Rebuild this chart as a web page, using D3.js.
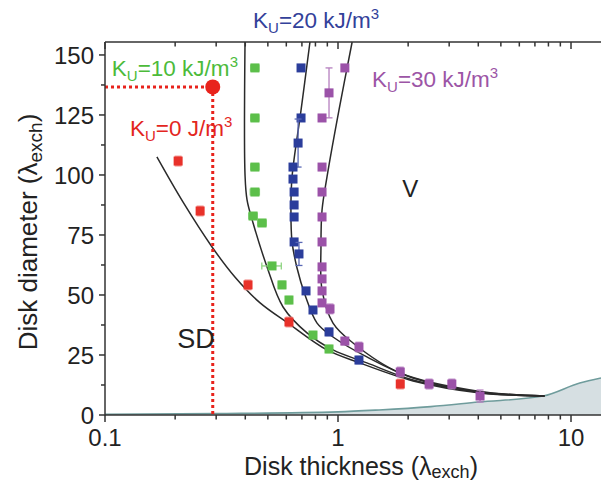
<!DOCTYPE html>
<html><head><meta charset="utf-8">
<script src="https://cdn.jsdelivr.net/npm/d3@7"></script>
<style>
html,body{margin:0;padding:0;background:#fff;}
svg{display:block;font-family:"Liberation Sans",Arial,Helvetica,sans-serif;}
</style></head>
<body><svg id="c" width="601" height="484"></svg>
<script>
// ---------- data ----------
const xMajorTicks = [0.1, 1, 10];
const xTickLabels = ["0.1", "1", "10"];
const xMinorTicks = [0.2,0.3,0.4,0.5,0.6,0.7,0.8,0.9,2,3,4,5,6,7,8,9];
const yTicks = [0, 25, 50, 75, 100, 125, 150];
const yMinorTicks = [12.5, 37.5, 62.5, 87.5, 112.5, 137.5];

// measured points (thickness, diameter) with error bars
const redX = [0.206, 0.256, 0.411, 0.616, 1.85];
const redY = [105.8, 85.0, 54.2, 38.75, 12.9];
const redErrY = [2, 2, 2, 2, 2];
const redErrX = [0, 0, 0, 0, 0];

const greenX = [0.44, 0.44, 0.44, 0.44, 0.432, 0.472, 0.521, 0.575, 0.616, 0.781, 0.915];
const greenY = [144.6, 123.75, 103.3, 92.9, 82.9, 80.0, 62.1, 54.2, 47.9, 33.3, 27.5];
const greenErrY = [1, 1, 1, 1, 1, 1, 1, 1.5, 1.5, 1.5, 1.5];
const greenErrX = [0.018, 0.018, 0.018, 0.02, 0.018, 0.02, 0.05, 0.02, 0.02, 0.02, 0.02];

const blueX = [0.694, 0.694, 0.674, 0.641, 0.641, 0.648, 0.648, 0.648, 0.648, 0.68, 0.729, 0.781, 0.915, 1.23];
const blueY = [144.6, 123.75, 113.3, 103.3, 98.3, 92.9, 87.5, 82.5, 72.1, 67.1, 51.7, 43.75, 34.6, 22.9];
const blueErrY = [0, 0, 10, 0, 0, 0, 0, 0, 0, 4.8, 0, 0, 1.5, 1.5];
const blueErrX = [0, 0.02, 0, 0, 0, 0, 0, 0, 0, 0, 0, 0, 0, 0];

const purpleX = [1.07, 0.915, 0.854, 0.854, 0.854, 0.854, 0.854, 0.854, 0.854, 0.854, 0.854, 0.924, 1.07, 1.23, 1.85, 2.46, 3.08, 4.07];
const purpleY = [144.6, 134.2, 123.75, 103.3, 92.9, 82.5, 72.1, 61.7, 56.7, 51.7, 46.7, 44.2, 30.8, 28.3, 17.9, 12.9, 12.9, 7.9];
const purpleErrY = [0, 10.4, 0, 0, 0, 0, 0, 0, 0, 0, 0, 2, 1.5, 2, 2, 2, 2, 2.5];
const purpleErrX = [0, 0, 0, 0, 0, 0, 0, 0, 0, 0, 0, 0, 0, 0, 0, 0, 0, 0];

// model curves
const redCurveX = [0.167, 0.216, 0.288, 0.361, 0.463, 0.61, 0.897, 1.24, 2.10, 4.07, 7.7];
const redCurveY = [107.5, 88.75, 70.0, 57.5, 46.7, 38.3, 27.1, 21.7, 14.2, 9.2, 7.9];
const greenCurveX = [0.399, 0.399, 0.407, 0.432, 0.496, 0.581, 0.736, 0.952, 1.33, 2.10, 4.07, 7.7];
const greenCurveY = [155.4, 100.0, 89.6, 80.0, 61.7, 45.0, 34.2, 27.1, 21.7, 14.6, 9.6, 7.9];
const blueCurveX = [0.758, 0.694, 0.635, 0.628, 0.635, 0.667, 0.722, 0.813, 0.952, 1.33, 2.10, 4.07, 7.7];
const blueCurveY = [155.4, 127.0, 99.2, 85.4, 72.1, 61.25, 50.0, 38.3, 32.5, 24.2, 15.4, 9.4, 7.9];
const purpleCurveX = [1.15, 1.01, 0.897, 0.854, 0.845, 0.854, 0.952, 1.16, 1.85, 4.07, 7.7];
const purpleCurveY = [155.4, 127.1, 99.2, 85.4, 70.0, 52.1, 38.3, 30.0, 17.5, 9.8, 7.9];

// shaded boundary (lower region)
const bandX = [0.1, 0.3, 1, 1.5, 2.5, 4, 7.6, 10.9, 13.45];
const bandY = [0.3, 0.6, 1.3, 2.1, 3.5, 5.4, 7.9, 13.3, 15.4];

// red marker point and guide lines
const markX = 0.29, markY = 136.7;

// ---------- layout ----------
const svg = d3.select("#c");
const L = 105, R = 601, T = 42, B = 415;
const x = d3.scaleLog().domain([0.1, 13.45]).range([L, R]);
const y = d3.scaleLinear().domain([0, 155.4]).range([B, T]);

const colRed = "#e8312a", colGreen = "#5cbf4a", colBlue = "#2b3d9b", colPurple = "#9b52a8";
const axisCol = "#333";

// shaded region
const area = d3.area().x((d,i)=>x(d[0])).y0(y(0)).y1(d=>y(d[1])).curve(d3.curveMonotoneX);
const band = bandX.map((v,i)=>[v, bandY[i]]);
svg.append("path").attr("d", area(band)).attr("fill", "#d6dfe2");
svg.append("path").attr("d", d3.line().x(d=>x(d[0])).y(d=>y(d[1])).curve(d3.curveMonotoneX)(band))
  .attr("fill","none").attr("stroke","#6f9c9c").attr("stroke-width",1.6);

// curves
const line = d3.line().x(d=>x(d[0])).y(d=>y(d[1])).curve(d3.curveCatmullRom.alpha(0.5));
[[redCurveX, redCurveY],[greenCurveX, greenCurveY],[blueCurveX, blueCurveY],[purpleCurveX, purpleCurveY]].forEach(([cx, cy])=>{
  svg.append("path").attr("d", line(cx.map((v,i)=>[v, cy[i]])))
    .attr("fill","none").attr("stroke","#2a2a2a").attr("stroke-width",1.5);
});

// points
function drawSeries(xs, ys, ex, ey, col, ecol){
  const g = svg.append("g");
  xs.forEach((xv,i)=>{
    const cx = x(xv), cy = y(ys[i]);
    if (ey[i] > 0){
      const y1 = y(ys[i]+ey[i]), y2 = y(ys[i]-ey[i]);
      g.append("line").attr("x1",cx).attr("x2",cx).attr("y1",y1).attr("y2",y2).attr("stroke",ecol).attr("stroke-width",1.3);
      g.append("line").attr("x1",cx-3.5).attr("x2",cx+3.5).attr("y1",y1).attr("y2",y1).attr("stroke",ecol).attr("stroke-width",1.3);
      g.append("line").attr("x1",cx-3.5).attr("x2",cx+3.5).attr("y1",y2).attr("y2",y2).attr("stroke",ecol).attr("stroke-width",1.3);
    }
    if (ex[i] > 0){
      const x1 = x(xv-ex[i]), x2 = x(xv+ex[i]);
      g.append("line").attr("x1",x1).attr("x2",x2).attr("y1",cy).attr("y2",cy).attr("stroke",ecol).attr("stroke-width",1.3);
      g.append("line").attr("x1",x1).attr("x2",x1).attr("y1",cy-3.5).attr("y2",cy+3.5).attr("stroke",ecol).attr("stroke-width",1.3);
      g.append("line").attr("x1",x2).attr("x2",x2).attr("y1",cy-3.5).attr("y2",cy+3.5).attr("stroke",ecol).attr("stroke-width",1.3);
    }
    g.append("rect").attr("x",cx-4.5).attr("y",cy-4.5).attr("width",9).attr("height",9).attr("fill",col);
  });
}
drawSeries(redX, redY, redErrX, redErrY, colRed, "#f08a85");
drawSeries(greenX, greenY, greenErrX, greenErrY, colGreen, "#8fd482");
drawSeries(blueX, blueY, blueErrX, blueErrY, colBlue, "#5a68b5");
drawSeries(purpleX, purpleY, purpleErrX, purpleErrY, colPurple, "#b57fbf");

// red guide lines and dot
svg.append("line").attr("x1",x(0.1)).attr("x2",x(markX)).attr("y1",y(markY)).attr("y2",y(markY))
  .attr("stroke","#e8231c").attr("stroke-width",3).attr("stroke-dasharray","3,3");
svg.append("line").attr("x1",x(markX)).attr("x2",x(markX)).attr("y1",y(markY)).attr("y2",y(0))
  .attr("stroke","#e8231c").attr("stroke-width",3).attr("stroke-dasharray","3,3");
svg.append("circle").attr("cx",x(markX)).attr("cy",y(markY)).attr("r",7.5).attr("fill","#e8231c");

// axes
const ax = svg.append("g").attr("stroke",axisCol).attr("stroke-width",1.5).attr("fill","none");
ax.append("line").attr("x1",L).attr("x2",R).attr("y1",B).attr("y2",B);
ax.append("line").attr("x1",L).attr("x2",R).attr("y1",T).attr("y2",T);
ax.append("line").attr("x1",L).attr("x2",L).attr("y1",T).attr("y2",B+0.75);
xMajorTicks.forEach(t=>{
  ax.append("line").attr("x1",x(t)).attr("x2",x(t)).attr("y1",B).attr("y2",B+7);
  ax.append("line").attr("x1",x(t)).attr("x2",x(t)).attr("y1",T).attr("y2",T+7);
});
xMinorTicks.forEach(t=>{
  ax.append("line").attr("x1",x(t)).attr("x2",x(t)).attr("y1",B).attr("y2",B+4.5);
  ax.append("line").attr("x1",x(t)).attr("x2",x(t)).attr("y1",T).attr("y2",T+4.5);
});
yTicks.forEach(t=>{
  ax.append("line").attr("x1",L-6).attr("x2",L).attr("y1",y(t)).attr("y2",y(t));
});
yMinorTicks.forEach(t=>{
  ax.append("line").attr("x1",L-4).attr("x2",L).attr("y1",y(t)).attr("y2",y(t));
});

// tick labels
const tl = svg.append("g").attr("fill","#222").attr("font-size",24);
yTicks.forEach(t=>{
  tl.append("text").attr("x",L-11).attr("y",y(t)).attr("dy","0.36em").attr("text-anchor","end").text(t);
});
xMajorTicks.forEach((t,i)=>{
  tl.append("text").attr("x",x(t)).attr("y",B+31).attr("text-anchor","middle").text(xTickLabels[i]);
});

// axis titles
const xt = svg.append("text").attr("x",361).attr("y",475).attr("text-anchor","middle")
  .attr("font-size",25).attr("fill","#222");
xt.append("tspan").text("Disk thickness (λ");
xt.append("tspan").attr("font-size",18).attr("dy",3).text("exch");
xt.append("tspan").attr("dy",-3).text(")");
const yt = svg.append("text").attr("transform","translate(37,232) rotate(-90)").attr("text-anchor","middle")
  .attr("font-size",26).attr("fill","#222");
yt.append("tspan").text("Disk diameter (λ");
yt.append("tspan").attr("font-size",19).attr("dy",5).text("exch");
yt.append("tspan").attr("dy",-5).text(")");

// annotations (positioned in data space)
const annK = [
  {px:0.432, py:161.25, col:"#33419a", val:"=20 kJ/m", sup:"3"},
  {px:0.107, py:141.25, col:"#4cbb3a", val:"=10 kJ/m", sup:"3"},
  {px:0.128, py:116.25, col:"#e3261e", val:"=0 J/m", sup:"3"},
  {px:1.40, py:136.7, col:"#9c55a6", val:"=30 kJ/m", sup:"3"}
];
annK.forEach(a=>{
  const t = svg.append("text").attr("x",x(a.px)).attr("y",y(a.py)).attr("font-size",22.5).attr("fill",a.col);
  t.append("tspan").text("K");
  t.append("tspan").attr("font-size",15).attr("dy",5).text("U");
  t.append("tspan").attr("dy",-5).text(a.val);
  t.append("tspan").attr("font-size",15).attr("dy",-9).text(a.sup);
});
svg.append("text").attr("x",x(2.04)).attr("y",y(90.8)).attr("text-anchor","middle").attr("font-size",24).attr("fill","#222").text("V");
svg.append("text").attr("x",x(0.204)).attr("y",y(27.9)).attr("font-size",27).attr("fill","#222").text("SD");
</script></body></html>
